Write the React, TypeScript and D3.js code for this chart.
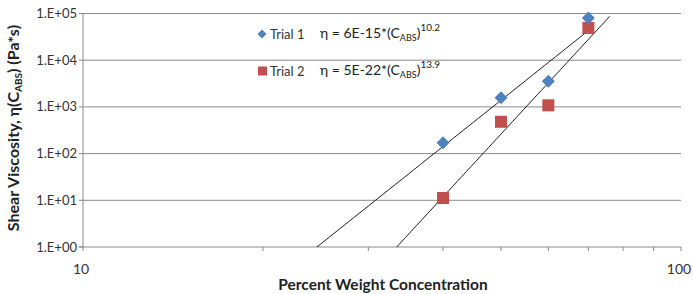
import * as d3 from 'd3';
import { useEffect, useRef } from 'react';

const concentration = [40, 50, 60, 70];
const trial1 = [170, 1575, 3540, 80000];
const trial2 = [11.2, 480, 1080, 49000];
const yTicks = [1, 10, 100, 1000, 10000, 100000];
const xMinor = [20, 30, 40, 50, 60, 70, 80, 90];
const legendRows = [
  { label: 'Trial 1', coef: '6E-15', exp: '10.2', shape: 'diamond' },
  { label: 'Trial 2', coef: '5E-22', exp: '13.9', shape: 'square' },
];

const FONT = 'Lato, "Open Sans", sans-serif';

// power-law least squares, same as excel's trendline
function powerFit(xs: number[], ys: number[]) {
  const lx = xs.map(Math.log10);
  const ly = ys.map(Math.log10);
  const mx = d3.mean(lx)!;
  const my = d3.mean(ly)!;
  const sxy = d3.sum(lx, (v, i) => (v - mx) * (ly[i] - my));
  const sxx = d3.sum(lx, (v) => (v - mx) ** 2);
  const b = sxy / sxx;
  const a = my - b * mx;
  return (x: number) => Math.pow(10, a + b * Math.log10(x));
}

export default function App() {
  const ref = useRef<SVGSVGElement | null>(null);

  useEffect(() => {
    if (!ref.current) return;
    const width = 693;
    const height = 294;
    const left = 83;
    const right = 681;
    const top = 13.5;
    const bottom = 247;

    const svg = d3.select(ref.current).attr('viewBox', `0 0 ${width} ${height}`);
    svg.selectAll('*').remove();

    const x = d3.scaleLog().domain([10, 100]).range([left, right]);
    const y = d3.scaleLog().domain([1, 100000]).range([bottom, top]);

    svg.append('defs').append('clipPath').attr('id', 'plot')
      .append('rect').attr('x', left).attr('y', top).attr('width', right - left).attr('height', bottom - top);

    /* gridlines */
    svg.append('g').selectAll('line').data(yTicks.slice(1)).enter().append('line')
      .attr('x1', left).attr('x2', right)
      .attr('y1', (d) => y(d)).attr('y2', (d) => y(d))
      .attr('stroke', '#8a8a8a').attr('stroke-width', 1);

    /* axes */
    svg.append('line').attr('x1', left).attr('x2', left).attr('y1', top).attr('y2', bottom)
      .attr('stroke', '#8a8a8a');
    svg.append('line').attr('x1', left - 4).attr('x2', right).attr('y1', bottom).attr('y2', bottom)
      .attr('stroke', '#8a8a8a');

    svg.append('g').selectAll('line').data(yTicks).enter().append('line')
      .attr('x1', left - 4).attr('x2', left)
      .attr('y1', (d) => y(d)).attr('y2', (d) => y(d))
      .attr('stroke', '#8a8a8a');

    svg.append('g').selectAll('line').data([10, ...xMinor, 100]).enter().append('line')
      .attr('x1', (d) => x(d)).attr('x2', (d) => x(d))
      .attr('y1', bottom).attr('y2', bottom + 4)
      .attr('stroke', '#8a8a8a');

    svg.append('g').selectAll('text').data(yTicks).enter().append('text')
      .attr('x', left - 6).attr('y', (d) => y(d) + 4.5)
      .attr('text-anchor', 'end')
      .attr('font-family', FONT).attr('font-size', 13).attr('fill', '#333')
      .text((d) => '1.E+0' + Math.round(Math.log10(d)));

    svg.append('g').selectAll('text').data([10, 100]).enter().append('text')
      .attr('x', (d) => x(d) - 2).attr('y', 274)
      .attr('text-anchor', 'middle')
      .attr('font-family', FONT).attr('font-size', 14).attr('fill', '#333')
      .text((d) => String(d));

    /* titles */
    svg.append('text').attr('x', 383).attr('y', 290)
      .attr('text-anchor', 'middle')
      .attr('font-family', FONT).attr('font-size', 15.5).attr('font-weight', 'bold').attr('fill', '#222')
      .text('Percent Weight Concentration');

    const yt = svg.append('text')
      .attr('transform', `translate(19,128) rotate(-90)`)
      .attr('text-anchor', 'middle')
      .attr('font-family', FONT).attr('font-size', 16).attr('font-weight', 'bold').attr('fill', '#222');
    yt.append('tspan').text('Shear Viscosity, η(C');
    yt.append('tspan').attr('font-size', 10).attr('dy', 3).text('ABS');
    yt.append('tspan').attr('dy', -3).text(') (Pa*s)');

    /* trendlines */
    const fit1 = powerFit(concentration, trial1);
    const fit2 = powerFit(concentration, trial2);
    const line = d3.line<number>().x((d) => x(d));
    const lines = [
      { f: fit1, from: 20, to: 70 },
      { f: fit2, from: 30, to: 76 },
    ];
    const lg = svg.append('g').attr('clip-path', 'url(#plot)');
    lines.forEach((l) => {
      const pts = d3.range(0, 61).map((i) => l.from + ((l.to - l.from) * i) / 60);
      lg.append('path')
        .attr('d', line.y((d) => y(l.f(d)))(pts))
        .attr('fill', 'none').attr('stroke', '#1a1a1a').attr('stroke-width', 1);
    });

    /* markers */
    svg.append('g').selectAll('rect').data(concentration).enter().append('rect')
      .attr('x', (d) => x(d) - 6).attr('y', (d, i) => y(trial2[i]) - 6)
      .attr('width', 12).attr('height', 12)
      .attr('fill', '#C0504D');

    svg.append('g').selectAll('path').data(concentration).enter().append('path')
      .attr('d', 'M0,-6.5L6.5,0L0,6.5L-6.5,0Z')
      .attr('transform', (d, i) => `translate(${x(d)},${y(trial1[i])})`)
      .attr('fill', '#4F81BD');

    /* legend */
    legendRows.forEach((r, i) => {
      const cy = 34 + i * 37;
      if (r.shape === 'diamond') {
        svg.append('path').attr('d', 'M0,-4.5L4.5,0L0,4.5L-4.5,0Z')
          .attr('transform', `translate(262,${cy})`).attr('fill', '#4F81BD');
      } else {
        svg.append('rect').attr('x', 258).attr('y', cy - 4.5).attr('width', 9).attr('height', 9)
          .attr('fill', '#C0504D');
      }
      svg.append('text').attr('x', 270).attr('y', cy + 4.5)
        .attr('font-family', FONT).attr('font-size', 13).attr('fill', '#333')
        .text(r.label);
      const t = svg.append('text').attr('x', 320).attr('y', cy + 3.5)
        .attr('font-family', FONT).attr('font-size', 14).attr('fill', '#222');
      t.append('tspan').text(`η = ${r.coef}*(C`);
      t.append('tspan').attr('font-size', 9).attr('dy', 3).text('ABS');
      t.append('tspan').attr('dy', -3).text(')');
      t.append('tspan').attr('font-size', 10).attr('dy', -7).text(r.exp);
    });
  }, []);

  return (
    <svg
      ref={ref}
      width={693}
      height={294}
      style={{ position: 'absolute', left: 0, top: 0, background: '#fff' }}
    />
  );
}
